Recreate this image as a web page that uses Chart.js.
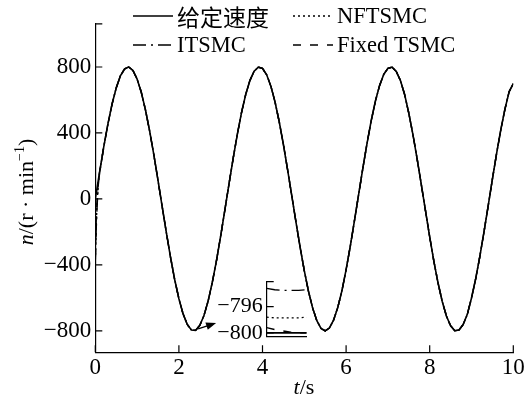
<!DOCTYPE html>
<html>
<head>
<meta charset="utf-8">
<script src="https://cdn.jsdelivr.net/npm/chart.js@4"></script>
<style>
  body { margin: 0; background: #fff; }
  #wrap { position: relative; width: 528px; height: 398px; }
  #main { position: absolute; left: 0; top: 0; }
  #inset { position: absolute; left: 200px; top: 264px; }
</style>
</head>
<body>
<div id="wrap">
  <canvas id="main" width="528" height="398"></canvas>
  <canvas id="inset" width="110" height="90"></canvas>
</div>
<script>
// reference speed every 0.1 s (t = 0 ... 10 s)
const refSpeed = [
  0, 159, 312, 452, 574, 673, 746, 788, 800, 779,
  727, 647, 540, 412, 268, 113, -47, -204, -354, -490,
  -605, -697, -761, -795, -797, -767, -707, -618, -505, -372,
  -224, -66, 93, 249, 395, 526, 635, 719, 774, 799,
  792, 753, 684, 588, 468, 330, 178, 20, -139, -293,
  -435, -560, -662, -738, -785, -800, -783, -735, -659, -557,
  -429, -287, -132, 27, 185, 336, 474, 592, 687, 755,
  792, 799, 773, 718, 633, 520, 389, 242, 86, -73,
  -230, -378, -510, -622, -710, -769, -799, -795, -762, -700,
  -601, -484, -348, -198, -40, 120, 275, 418, 545, 650,
  700
];

// start-up transients of the three controllers (they track the reference after ~0.1 s)
const headTimes = [0, 0.01, 0.02, 0.04, 0.07, 0.1];
const itsmcHead = [-380, -300, -200, -60, 80, 150];
const nftsmcHead = [-370, -280, -170, -40, 90, 155];
const fixedHead = [-360, -260, -150, -20, 100, 158];

// zoomed view near the first trough
const insetTimes = [2.30, 2.33, 2.36, 2.39, 2.42, 2.45];
const insetRef = [-800.0, -800.0, -800.0, -800.0, -800.0, -800.0];
const insetNftsmc = [-797.6, -797.7, -797.7, -797.7, -797.7, -797.6];
const insetItsmc = [-793.2, -793.4, -793.5, -793.5, -793.5, -793.4];
const insetFixed = [-799.2, -799.5, -799.7, -799.9, -800.0, -800.0];

const xTicks = [0, 2, 4, 6, 8, 10];
const yTicks = [-800, -400, 0, 400, 800];
const insetTicks = [-800, -796];

const labels = ['给定速度', 'NFTSMC', 'ITSMC', 'Fixed TSMC'];

const SERIF = '"Liberation Serif", "Times New Roman", serif';
const fmt = v => (v < 0 ? '\u2212' + Math.abs(v) : String(v));

const times = refSpeed.map((_, i) => i / 10);
const refPoints = times.map((t, i) => ({ x: t, y: refSpeed[i] }));

function withHead(head) {
    const pts = headTimes.map((t, i) => ({ x: t, y: head[i] }));
    return pts.concat(refPoints.slice(2));
}

function lineSet(label, data, dash, width) {
    return {
        label: label,
        data: data,
        borderColor: '#000',
        borderWidth: width,
        borderDash: dash,
        pointRadius: 0,
        fill: false,
        tension: 0
    };
}

// ticks pointing into the plot, plus a cap at the top of the y axis
const inwardTicks = {
    id: 'inwardTicks',
    afterDraw(chart) {
        const { ctx, chartArea, scales } = chart;
        const len = 7;
        ctx.save();
        ctx.strokeStyle = '#000';
        ctx.lineWidth = 1.2;
        ctx.beginPath();
        if (scales.x.options.ticks.display !== false) {
            scales.x.ticks.forEach(t => {
                const px = scales.x.getPixelForValue(t.value);
                ctx.moveTo(px, chartArea.bottom);
                ctx.lineTo(px, chartArea.bottom - len);
            });
        }
        scales.y.ticks.forEach(t => {
            const py = scales.y.getPixelForValue(t.value);
            ctx.moveTo(chartArea.left, py);
            ctx.lineTo(chartArea.left + len, py);
        });
        ctx.moveTo(chartArea.left, chartArea.top + 0.5);
        ctx.lineTo(chartArea.left + len, chartArea.top + 0.5);
        ctx.stroke();
        ctx.restore();
    }
};

function drawParts(ctx, parts, cx, cy) {
    let total = 0;
    parts.forEach(p => {
        ctx.font = p.font;
        p.w = ctx.measureText(p.t).width;
        total += p.w;
    });
    let x = cx - total / 2;
    parts.forEach(p => {
        ctx.font = p.font;
        ctx.fillText(p.t, x, cy + (p.dy || 0));
        x += p.w;
    });
}

// axis titles, legend and the arrow to the inset
const decorations = {
    id: 'decorations',
    afterDraw(chart) {
        const { ctx, scales: { x, y } } = chart;
        ctx.save();
        ctx.fillStyle = '#000';
        ctx.strokeStyle = '#000';
        ctx.textAlign = 'left';
        ctx.textBaseline = 'middle';

        // x title
        drawParts(ctx, [
            { t: 't', font: 'italic 22px ' + SERIF },
            { t: '/s', font: '22px ' + SERIF }
        ], 304, 388);

        // y title
        ctx.save();
        ctx.translate(27, 192);
        ctx.rotate(-Math.PI / 2);
        drawParts(ctx, [
            { t: 'n', font: 'italic 22px ' + SERIF },
            { t: '/(r \u00b7 min', font: '22px ' + SERIF },
            { t: '\u22121', font: '14px ' + SERIF, dy: -7 },
            { t: ')', font: '22px ' + SERIF }
        ], 0, 0);
        ctx.restore();

        // legend, 2 x 2
        const slots = [[133, 16], [293, 16], [133, 45], [293, 45]];
        chart.data.datasets.forEach((ds, i) => {
            const [lx, ly] = slots[i];
            ctx.save();
            ctx.lineWidth = 1.5;
            ctx.setLineDash(ds.borderDash || []);
            ctx.beginPath();
            ctx.moveTo(lx, ly);
            ctx.lineTo(lx + 40, ly);
            ctx.stroke();
            ctx.restore();
            ctx.font = (i === 0 ? '23px "Noto Sans CJK SC", ' : '22.5px ') + SERIF;
            ctx.fillText(ds.label, lx + 44, ly + 1);
        });

        // arrow
        const x0 = x.getPixelForValue(2.46), y0 = y.getPixelForValue(-788);
        const x1 = x.getPixelForValue(2.89), y1 = y.getPixelForValue(-752);
        const ang = Math.atan2(y1 - y0, x1 - x0);
        ctx.lineWidth = 1.3;
        ctx.beginPath();
        ctx.moveTo(x0, y0);
        ctx.lineTo(x1 - 6 * Math.cos(ang), y1 - 6 * Math.sin(ang));
        ctx.stroke();
        ctx.beginPath();
        ctx.moveTo(x1, y1);
        ctx.lineTo(x1 - 10 * Math.cos(ang) + 3.8 * Math.sin(ang), y1 - 10 * Math.sin(ang) - 3.8 * Math.cos(ang));
        ctx.lineTo(x1 - 10 * Math.cos(ang) - 3.8 * Math.sin(ang), y1 - 10 * Math.sin(ang) + 3.8 * Math.cos(ang));
        ctx.closePath();
        ctx.fill();
        ctx.restore();
    }
};

new Chart(document.getElementById('main'), {
    type: 'line',
    data: {
        datasets: [
            lineSet(labels[0], refPoints, [], 1.6),
            lineSet(labels[1], withHead(nftsmcHead), [2, 3], 1.4),
            lineSet(labels[2], withHead(itsmcHead), [13, 5, 2, 5], 1.4),
            lineSet(labels[3], withHead(fixedHead), [8, 9], 1.4)
        ]
    },
    options: {
        responsive: false,
        animation: false,
        layout: { padding: { top: 23.3, right: 14.7, left: 0, bottom: 0 } },
        plugins: { legend: { display: false }, tooltip: { enabled: false } },
        scales: {
            x: {
                type: 'linear',
                min: 0,
                max: 10,
                afterBuildTicks: s => { s.ticks = xTicks.map(v => ({ value: v })); },
                afterFit: s => { s.height = 45.7; },
                grid: { display: false, drawTicks: false },
                border: { color: '#000', width: 1.2 },
                ticks: { color: '#000', padding: 2, maxRotation: 0, font: { family: SERIF, size: 23 } }
            },
            y: {
                min: -930,
                max: 1065,
                afterBuildTicks: s => { s.ticks = yTicks.map(v => ({ value: v })); },
                afterFit: s => { s.width = 95.3; },
                grid: { display: false, drawTicks: false },
                border: { color: '#000', width: 1.2 },
                ticks: { color: '#000', padding: 4, font: { family: SERIF, size: 23 }, callback: v => fmt(v) }
            }
        }
    },
    plugins: [inwardTicks, decorations]
});

// inset
const insetPts = arr => insetTimes.map((t, i) => ({ x: t, y: arr[i] }));

new Chart(document.getElementById('inset'), {
    type: 'line',
    data: {
        datasets: [
            lineSet(labels[0], insetPts(insetRef), [], 1.6),
            lineSet(labels[1], insetPts(insetNftsmc), [2, 3], 1.4),
            lineSet(labels[2], insetPts(insetItsmc), [13, 5, 2, 5], 1.4),
            lineSet(labels[3], insetPts(insetFixed), [8, 9], 1.4)
        ]
    },
    options: {
        responsive: false,
        animation: false,
        layout: { padding: { top: 14.5, right: 3.3, left: 0, bottom: 0 } },
        plugins: { legend: { display: false }, tooltip: { enabled: false } },
        scales: {
            x: {
                type: 'linear',
                min: 2.30,
                max: 2.45,
                afterFit: s => { s.height = 14; },
                grid: { display: false, drawTicks: false },
                border: { color: '#000', width: 1.2 },
                ticks: { display: false }
            },
            y: {
                min: -800.6,
                max: -792.1,
                afterBuildTicks: s => { s.ticks = insetTicks.map(v => ({ value: v })); },
                afterFit: s => { s.width = 66.7; },
                grid: { display: false, drawTicks: false },
                border: { color: '#000', width: 1.2 },
                ticks: { color: '#000', padding: 4, font: { family: SERIF, size: 22 }, callback: v => fmt(v) }
            }
        }
    },
    plugins: [inwardTicks]
});
</script>
</body>
</html>
